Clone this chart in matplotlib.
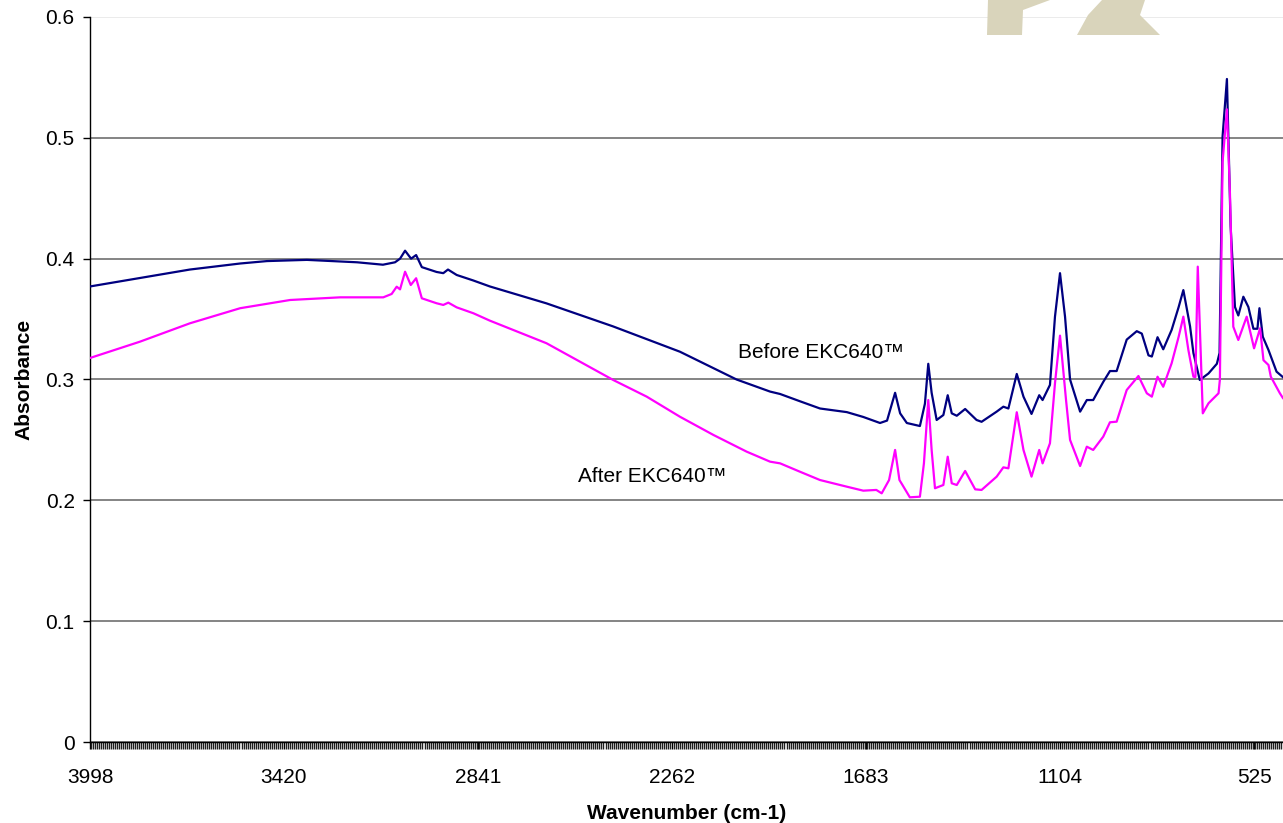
import matplotlib.pyplot as plt
from matplotlib.patches import Polygon
from matplotlib.ticker import FixedLocator, MultipleLocator

plt.rcParams['font.family'] = ['Liberation Sans', 'DejaVu Sans']

# Spectrum before treatment (wavenumber cm-1, absorbance)
before_wn = [3998, 3849, 3700, 3550, 3470, 3351, 3201, 3124, 3088, 3073, 3058, 3040,
             3025, 3008, 2964, 2944, 2930, 2904, 2855, 2805, 2636, 2438, 2238, 2069,
             1969, 1939, 1880, 1820, 1740, 1691, 1641, 1620, 1596, 1581, 1561, 1522,
             1507, 1497, 1487, 1472, 1452, 1439, 1427, 1412, 1387, 1353, 1338, 1293,
             1273, 1258, 1233, 1213, 1189, 1166, 1156, 1134, 1119, 1104, 1089, 1074,
             1044, 1024, 1005, 975, 955, 935, 905, 875, 860, 840, 830, 813, 796, 771,
             750, 736, 716, 706, 687, 661, 636, 628, 619, 606, 595, 582, 572, 557,
             542, 527, 515, 509, 499, 482, 458, 439]
before_abs = [0.377, 0.384, 0.391, 0.396, 0.398, 0.399, 0.397, 0.395, 0.397, 0.400, 0.4066, 0.400,
              0.403, 0.393, 0.389, 0.388, 0.391, 0.3865, 0.382, 0.377, 0.363, 0.344, 0.323, 0.300,
              0.290, 0.288, 0.282, 0.276, 0.273, 0.269, 0.264, 0.266, 0.289, 0.272, 0.264, 0.2615,
              0.280, 0.313, 0.289, 0.2665, 0.2706, 0.287, 0.272, 0.270, 0.2756, 0.2665, 0.265, 0.2734,
              0.2775, 0.276, 0.3046, 0.2858, 0.2715, 0.287, 0.283, 0.2955, 0.352, 0.388, 0.352, 0.300,
              0.2734, 0.283, 0.283, 0.298, 0.307, 0.307, 0.333, 0.340, 0.338, 0.320, 0.319, 0.335, 0.325, 0.341,
              0.360, 0.374, 0.344, 0.322, 0.2996, 0.305, 0.313, 0.322, 0.501, 0.5487, 0.427, 0.360, 0.353, 0.3685,
              0.360, 0.342, 0.342, 0.359, 0.3354, 0.3244, 0.3065, 0.302]

# Spectrum after treatment
after_wn = [3998, 3849, 3700, 3550, 3401, 3252, 3123, 3098, 3083, 3073, 3058, 3041,
            3025, 3008, 2964, 2944, 2929, 2904, 2854, 2805, 2636, 2437, 2337, 2238,
            2138, 2039, 1969, 1939, 1880, 1820, 1740, 1691, 1652, 1636, 1614, 1596,
            1583, 1574, 1552, 1522, 1510, 1497, 1487, 1477, 1452, 1439, 1427, 1412,
            1387, 1357, 1338, 1293, 1273, 1258, 1233, 1213, 1189, 1166, 1156, 1134,
            1119, 1104, 1086, 1074, 1044, 1024, 1005, 975, 955, 935, 905, 870, 845,
            830, 813, 796, 771, 750, 736, 721, 706, 700, 693, 678, 661, 631, 627,
            619, 606, 597, 587, 572, 547, 525, 507, 497, 482, 475, 448, 439]
after_abs = [0.3178, 0.3313, 0.3465, 0.359, 0.3658, 0.368, 0.368, 0.3708, 0.3768, 0.3746, 0.3892, 0.3782,
             0.3838, 0.3672, 0.3631, 0.3617, 0.3636, 0.3597, 0.3548, 0.3487, 0.330, 0.2996, 0.2858, 0.2692,
             0.2541, 0.2403, 0.232, 0.2306, 0.2237, 0.2168, 0.2113, 0.208, 0.2086, 0.2058, 0.2168, 0.2417,
             0.2168, 0.2127, 0.2025, 0.203, 0.2306, 0.283, 0.2417, 0.210, 0.2127, 0.2361, 0.2141, 0.2127,
             0.2243, 0.2091, 0.2086, 0.2196, 0.2273, 0.2265, 0.2729, 0.2417, 0.2196, 0.2417, 0.2306, 0.2472,
             0.2969, 0.3363, 0.283, 0.250, 0.2284, 0.2444, 0.2417, 0.2527, 0.2646, 0.2651, 0.2913, 0.3029, 0.2886,
             0.2858, 0.3023, 0.294, 0.3134, 0.3354, 0.352, 0.3244, 0.3023, 0.302, 0.3934, 0.272, 0.2803, 0.2886, 0.300,
             0.48, 0.5236, 0.454, 0.3437, 0.3327, 0.352, 0.3258, 0.3424, 0.316, 0.312, 0.3023, 0.2886, 0.2847]

tick_wn = [3998, 3420, 2841, 2262, 1683, 1104, 525]
y_ticks = [0, 0.1, 0.2, 0.3, 0.4, 0.5, 0.6]

W, H = 1283, 823
fig = plt.figure(figsize=(W / 100, H / 100), dpi=100)

# partial beige logo in the top right corner
def px(pts):
    return [(x / W, 1 - y / H) for x, y in pts]

for shape in ([(988, 0), (1050, 0), (1023, 10), (1022, 35), (987, 35)],
              [(1102, 0), (1145, 0), (1140, 15), (1160, 35), (1077, 35), (1088, 15)]):
    fig.patches.append(Polygon(px(shape), closed=True, transform=fig.transFigure,
                               facecolor='#d9d4bb', edgecolor='none', zorder=0))

ax = fig.add_axes([90 / W, 1 - 742 / H, 1 - 90 / W, (742 - 17) / H])
ax.set_facecolor('none')

ax.plot(before_wn, before_abs, color='#000080', lw=1.6, zorder=3)
ax.plot(after_wn, after_abs, color='#ff00ff', lw=1.6, zorder=3)

ax.set_xlim(3998, 438.7)
ax.set_ylim(0, 0.6)

ax.xaxis.set_major_locator(FixedLocator(tick_wn))
ax.xaxis.set_minor_locator(MultipleLocator(6))
ax.set_xticklabels([str(t) for t in tick_wn])
ax.tick_params(axis='x', which='major', length=5, width=1, direction='out', pad=14, labelsize=15)
ax.tick_params(axis='x', which='minor', length=5, width=1, direction='out', color='#202020')

ax.set_yticks(y_ticks)
ax.set_yticklabels(['0', '0.1', '0.2', '0.3', '0.4', '0.5', '0.6'])
ax.tick_params(axis='y', length=5, width=1, direction='out', pad=6, labelsize=15)

ax.grid(axis='y', color='#707070', lw=1.2)
ax.yaxis.get_gridlines()[-1].set_color('#e8e8e8')
ax.set_axisbelow(True)

for s in ['top', 'right']:
    ax.spines[s].set_visible(False)
ax.spines['left'].set_linewidth(1)
ax.spines['bottom'].set_linewidth(1)

ax.set_xlabel('Wavenumber (cm-1)', fontsize=15, fontweight='bold', labelpad=12)
ax.set_ylabel('Absorbance', fontsize=15, fontweight='bold', labelpad=9)

ax.text(2065, 0.322, 'Before EKC640™', fontsize=15, ha='left', va='center')
ax.text(2542, 0.2195, 'After EKC640™', fontsize=15, ha='left', va='center')

fig.savefig('out.png', dpi=100)
